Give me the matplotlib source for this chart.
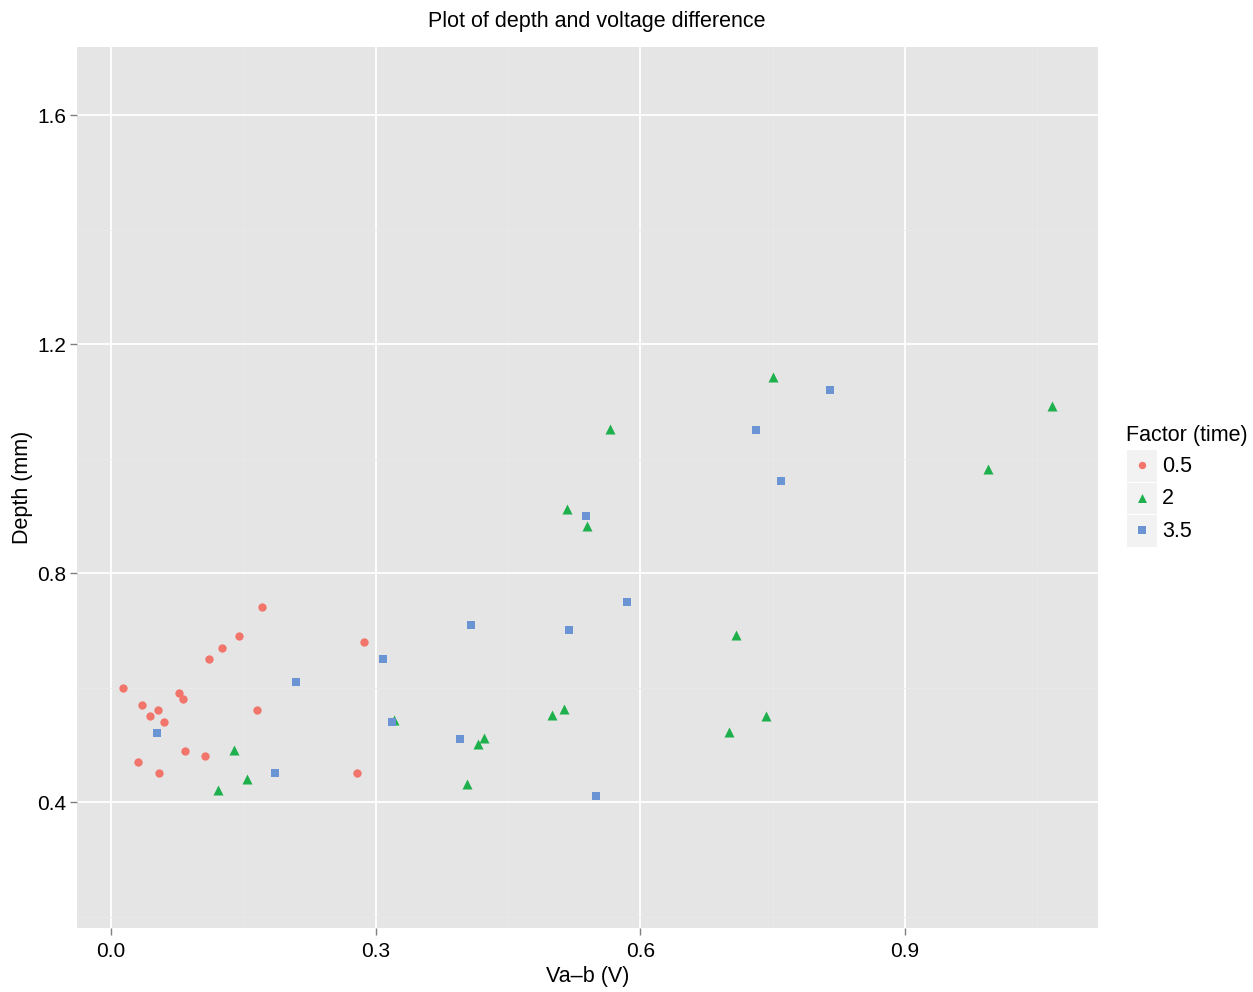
import matplotlib
matplotlib.use("Agg")
import matplotlib.pyplot as plt
from matplotlib.ticker import FixedLocator
from matplotlib.patches import Rectangle

plt.rcParams['font.family'] = ['Liberation Sans', 'DejaVu Sans']

# Data
x_05 = [0.014, 0.035, 0.044, 0.053, 0.060, 0.031, 0.054, 0.077, 0.082, 0.084,
        0.107, 0.111, 0.126, 0.145, 0.171, 0.165, 0.287, 0.279]
y_05 = [0.600, 0.569, 0.550, 0.561, 0.540, 0.470, 0.451, 0.590, 0.580, 0.489,
        0.480, 0.650, 0.669, 0.690, 0.741, 0.561, 0.679, 0.451]

x_2 = [0.121, 0.140, 0.154, 0.321, 0.403, 0.416, 0.423, 0.500, 0.514, 0.517,
       0.540, 0.566, 0.700, 0.708, 0.742, 0.750, 0.994, 1.067]
y_2 = [0.421, 0.491, 0.441, 0.543, 0.432, 0.501, 0.512, 0.552, 0.562, 0.912,
       0.882, 1.052, 0.522, 0.692, 0.551, 1.142, 0.982, 1.092]

x_35 = [0.052, 0.186, 0.210, 0.308, 0.318, 0.396, 0.408, 0.519, 0.538, 0.550,
        0.585, 0.731, 0.759, 0.815]
y_35 = [0.520, 0.451, 0.610, 0.650, 0.540, 0.510, 0.710, 0.700, 0.900, 0.410,
        0.750, 1.050, 0.960, 1.120]

factor_labels = ["0.5", "2", "3.5"]
colors = ["#F2756B", "#1DB04C", "#6A94D4"]
markers = ["o", "^", "s"]
msizes = [36, 52, 40]

x_ticks = [0.0, 0.3, 0.6, 0.9]
y_ticks = [0.4, 0.8, 1.2, 1.6]
x_minor = [0.15, 0.45, 0.75, 1.05]
y_minor = [0.2, 0.6, 1.0, 1.4]

W, H = 1253, 992
fig = plt.figure(figsize=(W / 100, H / 100), dpi=100)
ax = fig.add_axes([77 / W, 1 - 928 / H, (1098 - 77) / W, (928 - 47) / H])
ax.set_facecolor("#E5E5E5")
for s in ax.spines.values():
    s.set_visible(False)

ax.set_xlim(-0.0385, 1.1187)
ax.set_ylim(0.18, 1.719)
ax.xaxis.set_major_locator(FixedLocator(x_ticks))
ax.yaxis.set_major_locator(FixedLocator(y_ticks))
ax.xaxis.set_minor_locator(FixedLocator(x_minor))
ax.yaxis.set_minor_locator(FixedLocator(y_minor))
ax.set_xticklabels(["0.0", "0.3", "0.6", "0.9"])
ax.set_yticklabels(["0.4", "0.8", "1.2", "1.6"])
ax.grid(which="major", color="white", linewidth=1.3)
ax.grid(which="minor", color="#E9E9E9", linewidth=0.6)
ax.set_axisbelow(True)
ax.tick_params(which="major", length=5, width=1.0, color="#7F7F7F",
               labelsize=15, labelcolor="#000000")
ax.tick_params(axis="x", pad=5)
ax.tick_params(axis="y", pad=2.5)
ax.tick_params(which="minor", length=0)

series = [(x_05, y_05), (x_2, y_2), (x_35, y_35)]
for (xs, ys), lab, c, m, ms in zip(series, factor_labels, colors, markers, msizes):
    ax.scatter(xs, ys, s=ms, c=c, marker=m, linewidths=0, label=lab, zorder=3)

ax.set_xlabel("Va\u2013b (V)", fontsize=15.5, labelpad=4)
ax.set_ylabel("Depth (mm)", fontsize=15.5, labelpad=3)
fig.text(597 / W, 1 - 21 / H, "Plot of depth and voltage difference",
         fontsize=15.5, ha="center", va="center")

# Legend (ggplot style) drawn in a pixel-coordinate overlay axes
lax = fig.add_axes([0, 0, 1, 1], zorder=-1)
lax.set_xlim(0, W)
lax.set_ylim(H, 0)
lax.axis("off")
lax.text(1126, 436, "Factor (time)", fontsize=15.5, va="center", ha="left")
key_top, key_h = 449, 32.5
for i, (lab, c, m, ms) in enumerate(zip(factor_labels, colors, markers, msizes)):
    y0 = key_top + i * key_h
    lax.add_patch(Rectangle((1126, y0), 31, key_h, facecolor="#F2F2F2",
                            edgecolor="white", linewidth=0.8))
    lax.scatter([1141.5], [y0 + key_h / 2], s=ms * 0.8, c=c, marker=m,
                linewidths=0, zorder=3)
    lax.text(1162, y0 + key_h / 2 + 1, lab, fontsize=15.5, va="center", ha="left")

fig.savefig("out.png", dpi=100)
